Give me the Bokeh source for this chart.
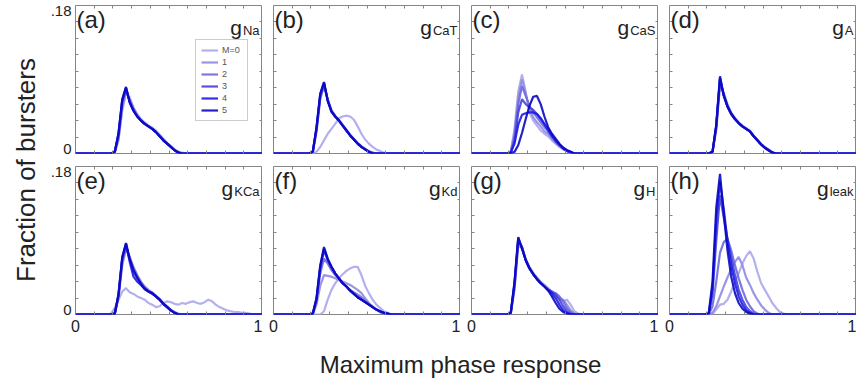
from bokeh.plotting import figure
from bokeh.layouts import row, column
from bokeh.models import LinearAxis, FixedTicker, Label, Legend, LegendItem, Div, Range1d
from bokeh.embed import file_html
from bokeh.resources import INLINE

# ---------------- data ----------------
X_GRID = [0, 0.17, 0.19, 0.21, 0.23, 0.25, 0.27, 0.29, 0.31, 0.33, 0.35, 0.37, 0.39,
          0.41, 0.43, 0.45, 0.47, 0.49, 0.51, 0.53, 0.55, 0.57, 0.59, 0.61, 0.63, 0.65, 1.0]

M_LABELS = ["M=0", "1", "2", "3", "4", "5"]
PANEL_LETTERS = ["(a)", "(b)", "(c)", "(d)", "(e)", "(f)", "(g)", "(h)"]
PANEL_SUBS = ["Na", "CaT", "CaS", "A", "KCa", "Kd", "H", "leak"]

G_NA = [
    [0, 0, 0, 0.001, 0.016, 0.052, 0.074, 0.068, 0.056, 0.048, 0.042, 0.038, 0.034, 0.031, 0.028, 0.023, 0.018, 0.013, 0.009, 0.005, 0.002, 0.001, 0, 0, 0, 0, 0],
    [0, 0, 0, 0.001, 0.018, 0.056, 0.076, 0.066, 0.055, 0.047, 0.041, 0.037, 0.034, 0.031, 0.027, 0.022, 0.017, 0.012, 0.008, 0.004, 0.002, 0, 0, 0, 0, 0, 0],
    [0, 0, 0, 0.002, 0.020, 0.060, 0.078, 0.064, 0.054, 0.046, 0.040, 0.036, 0.033, 0.030, 0.026, 0.021, 0.016, 0.012, 0.008, 0.004, 0.001, 0, 0, 0, 0, 0, 0],
    [0, 0, 0, 0.002, 0.022, 0.063, 0.079, 0.063, 0.053, 0.045, 0.040, 0.036, 0.033, 0.030, 0.026, 0.021, 0.016, 0.012, 0.008, 0.004, 0.001, 0, 0, 0, 0, 0, 0],
    [0, 0, 0, 0.002, 0.024, 0.065, 0.080, 0.062, 0.052, 0.045, 0.040, 0.036, 0.033, 0.030, 0.026, 0.021, 0.016, 0.012, 0.008, 0.004, 0.001, 0, 0, 0, 0, 0, 0],
    [0, 0, 0, 0.002, 0.025, 0.066, 0.081, 0.062, 0.052, 0.045, 0.040, 0.036, 0.033, 0.030, 0.026, 0.021, 0.016, 0.012, 0.008, 0.004, 0.001, 0, 0, 0, 0, 0, 0],
]
G_CAT = [
    [0, 0, 0, 0, 0.002, 0.008, 0.016, 0.024, 0.030, 0.036, 0.043, 0.045, 0.046, 0.045, 0.041, 0.033, 0.024, 0.017, 0.012, 0.008, 0.005, 0.003, 0.001, 0, 0, 0, 0],
    [0, 0, 0, 0.001, 0.026, 0.066, 0.082, 0.066, 0.053, 0.046, 0.041, 0.035, 0.029, 0.023, 0.018, 0.013, 0.009, 0.006, 0.003, 0.001, 0, 0, 0, 0, 0, 0, 0],
    [0, 0, 0, 0.002, 0.028, 0.068, 0.084, 0.065, 0.052, 0.045, 0.040, 0.034, 0.028, 0.022, 0.017, 0.012, 0.008, 0.005, 0.002, 0.001, 0, 0, 0, 0, 0, 0, 0],
    [0, 0, 0, 0.002, 0.030, 0.070, 0.085, 0.065, 0.051, 0.045, 0.040, 0.034, 0.028, 0.022, 0.017, 0.012, 0.008, 0.005, 0.002, 0, 0, 0, 0, 0, 0, 0, 0],
    [0, 0, 0, 0.002, 0.031, 0.072, 0.086, 0.064, 0.051, 0.045, 0.040, 0.034, 0.028, 0.022, 0.017, 0.012, 0.008, 0.005, 0.002, 0, 0, 0, 0, 0, 0, 0, 0],
    [0, 0, 0, 0.002, 0.032, 0.073, 0.087, 0.064, 0.051, 0.045, 0.040, 0.034, 0.028, 0.022, 0.017, 0.012, 0.008, 0.005, 0.002, 0, 0, 0, 0, 0, 0, 0, 0],
]
G_CAS = [
    [0, 0, 0, 0.002, 0.030, 0.075, 0.096, 0.075, 0.050, 0.040, 0.034, 0.028, 0.024, 0.021, 0.016, 0.012, 0.008, 0.005, 0.003, 0.001, 0, 0, 0, 0, 0, 0, 0],
    [0, 0, 0, 0.002, 0.025, 0.068, 0.090, 0.072, 0.055, 0.044, 0.038, 0.033, 0.027, 0.024, 0.018, 0.013, 0.009, 0.006, 0.003, 0.001, 0, 0, 0, 0, 0, 0, 0],
    [0, 0, 0, 0.001, 0.020, 0.060, 0.082, 0.070, 0.058, 0.050, 0.044, 0.038, 0.032, 0.027, 0.020, 0.015, 0.010, 0.006, 0.003, 0.001, 0, 0, 0, 0, 0, 0, 0],
    [0, 0, 0, 0.001, 0.015, 0.050, 0.066, 0.060, 0.056, 0.053, 0.048, 0.042, 0.035, 0.028, 0.021, 0.015, 0.010, 0.006, 0.003, 0.001, 0, 0, 0, 0, 0, 0, 0],
    [0, 0, 0, 0.001, 0.012, 0.035, 0.047, 0.049, 0.050, 0.050, 0.048, 0.043, 0.036, 0.029, 0.022, 0.016, 0.011, 0.007, 0.004, 0.002, 0, 0, 0, 0, 0, 0, 0],
    [0, 0, 0, 0, 0.002, 0.010, 0.025, 0.042, 0.058, 0.069, 0.070, 0.060, 0.045, 0.032, 0.024, 0.018, 0.012, 0.007, 0.004, 0.002, 0, 0, 0, 0, 0, 0, 0],
]
G_A = [
    [0, 0, 0, 0, 0.002, 0.028, 0.082, 0.074, 0.060, 0.050, 0.043, 0.038, 0.034, 0.031, 0.028, 0.022, 0.017, 0.012, 0.008, 0.005, 0.002, 0, 0, 0, 0, 0, 0],
    [0, 0, 0, 0, 0.002, 0.030, 0.085, 0.073, 0.059, 0.049, 0.043, 0.037, 0.033, 0.030, 0.027, 0.021, 0.016, 0.011, 0.007, 0.004, 0.001, 0, 0, 0, 0, 0, 0],
    [0, 0, 0, 0, 0.002, 0.032, 0.088, 0.072, 0.058, 0.049, 0.042, 0.037, 0.033, 0.030, 0.027, 0.021, 0.016, 0.011, 0.007, 0.004, 0.001, 0, 0, 0, 0, 0, 0],
    [0, 0, 0, 0, 0.002, 0.033, 0.090, 0.071, 0.058, 0.048, 0.042, 0.037, 0.033, 0.030, 0.027, 0.021, 0.016, 0.011, 0.007, 0.004, 0.001, 0, 0, 0, 0, 0, 0],
    [0, 0, 0, 0, 0.002, 0.034, 0.092, 0.071, 0.057, 0.048, 0.042, 0.037, 0.033, 0.030, 0.027, 0.021, 0.016, 0.011, 0.007, 0.004, 0.001, 0, 0, 0, 0, 0, 0],
    [0, 0, 0, 0, 0.002, 0.035, 0.094, 0.070, 0.057, 0.048, 0.042, 0.037, 0.033, 0.030, 0.027, 0.021, 0.016, 0.011, 0.007, 0.004, 0.001, 0, 0, 0, 0, 0, 0],
]
# panel (e), M=0 has a long tail and its own x values
X_KCA_M0 = [0, 0.17, 0.19, 0.21, 0.23, 0.25, 0.27, 0.29, 0.31, 0.33, 0.35, 0.37, 0.39, 0.41,
            0.43, 0.45, 0.47, 0.49, 0.51, 0.53, 0.55, 0.57, 0.59, 0.61, 0.63, 0.65, 0.67,
            0.69, 0.71, 0.73, 0.75, 0.77, 0.79, 0.81, 0.83, 0.85, 0.87, 0.89, 0.91, 0.93, 0.95, 1.0]
Y_KCA_M0 = [0, 0, 0.001, 0.008, 0.018, 0.028, 0.032, 0.027, 0.025, 0.022, 0.020, 0.018, 0.014, 0.012,
            0.009, 0.010, 0.014, 0.016, 0.015, 0.013, 0.012, 0.014, 0.013, 0.015, 0.016, 0.014, 0.013,
            0.015, 0.018, 0.016, 0.012, 0.009, 0.007, 0.005, 0.004, 0.003, 0.003, 0.002, 0.002, 0.001, 0, 0]
G_KCA = [
    Y_KCA_M0,
    [0, 0, 0, 0.001, 0.020, 0.060, 0.080, 0.070, 0.058, 0.048, 0.040, 0.034, 0.030, 0.027, 0.023, 0.019, 0.014, 0.010, 0.006, 0.003, 0.001, 0, 0, 0, 0, 0, 0],
    [0, 0, 0, 0.001, 0.022, 0.064, 0.083, 0.068, 0.056, 0.047, 0.039, 0.033, 0.029, 0.026, 0.022, 0.018, 0.013, 0.009, 0.005, 0.002, 0, 0, 0, 0, 0, 0, 0],
    [0, 0, 0, 0.001, 0.023, 0.067, 0.085, 0.066, 0.052, 0.044, 0.038, 0.032, 0.028, 0.026, 0.022, 0.018, 0.013, 0.009, 0.005, 0.002, 0, 0, 0, 0, 0, 0, 0],
    [0, 0, 0, 0.001, 0.024, 0.069, 0.086, 0.064, 0.046, 0.040, 0.036, 0.031, 0.028, 0.025, 0.022, 0.018, 0.013, 0.009, 0.005, 0.002, 0, 0, 0, 0, 0, 0, 0],
    [0, 0, 0, 0.001, 0.025, 0.070, 0.087, 0.068, 0.054, 0.045, 0.037, 0.031, 0.028, 0.026, 0.022, 0.018, 0.013, 0.009, 0.005, 0.002, 0, 0, 0, 0, 0, 0, 0],
]
G_KD = [
    [0, 0, 0, 0, 0, 0, 0.004, 0.018, 0.030, 0.038, 0.044, 0.049, 0.053, 0.056, 0.058, 0.058, 0.048, 0.035, 0.026, 0.018, 0.012, 0.008, 0.004, 0.002, 0, 0, 0],
    [0, 0, 0, 0, 0.012, 0.035, 0.048, 0.047, 0.046, 0.044, 0.042, 0.040, 0.038, 0.036, 0.033, 0.030, 0.026, 0.020, 0.014, 0.010, 0.006, 0.003, 0.001, 0, 0, 0, 0],
    [0, 0, 0, 0.001, 0.016, 0.050, 0.068, 0.062, 0.054, 0.048, 0.043, 0.038, 0.034, 0.030, 0.027, 0.024, 0.021, 0.017, 0.013, 0.009, 0.006, 0.003, 0.001, 0, 0, 0, 0],
    [0, 0, 0, 0.001, 0.018, 0.056, 0.078, 0.066, 0.057, 0.050, 0.044, 0.038, 0.034, 0.029, 0.025, 0.021, 0.018, 0.015, 0.012, 0.009, 0.006, 0.004, 0.002, 0.001, 0, 0, 0],
    [0, 0, 0, 0.001, 0.019, 0.058, 0.080, 0.067, 0.058, 0.050, 0.044, 0.038, 0.034, 0.029, 0.025, 0.021, 0.018, 0.015, 0.012, 0.009, 0.006, 0.004, 0.002, 0.001, 0, 0, 0],
    [0, 0, 0, 0.001, 0.020, 0.060, 0.082, 0.068, 0.058, 0.050, 0.044, 0.038, 0.034, 0.029, 0.025, 0.021, 0.018, 0.015, 0.012, 0.009, 0.006, 0.004, 0.002, 0.001, 0, 0, 0],
]
G_H = [
    [0, 0, 0, 0.001, 0.030, 0.084, 0.080, 0.068, 0.058, 0.051, 0.045, 0.040, 0.036, 0.032, 0.028, 0.025, 0.020, 0.016, 0.018, 0.012, 0.004, 0.001, 0, 0, 0, 0, 0],
    [0, 0, 0, 0.001, 0.032, 0.087, 0.082, 0.067, 0.057, 0.050, 0.044, 0.039, 0.035, 0.031, 0.027, 0.024, 0.020, 0.018, 0.012, 0.005, 0.001, 0, 0, 0, 0, 0, 0],
    [0, 0, 0, 0.002, 0.034, 0.089, 0.082, 0.066, 0.057, 0.049, 0.044, 0.039, 0.034, 0.030, 0.027, 0.026, 0.022, 0.016, 0.008, 0.003, 0, 0, 0, 0, 0, 0, 0],
    [0, 0, 0, 0.002, 0.036, 0.091, 0.082, 0.066, 0.056, 0.049, 0.043, 0.038, 0.034, 0.030, 0.028, 0.024, 0.018, 0.010, 0.004, 0.001, 0, 0, 0, 0, 0, 0, 0],
    [0, 0, 0, 0.002, 0.038, 0.093, 0.081, 0.066, 0.056, 0.049, 0.043, 0.038, 0.034, 0.030, 0.026, 0.020, 0.012, 0.005, 0.002, 0, 0, 0, 0, 0, 0, 0, 0],
    [0, 0, 0, 0.002, 0.040, 0.094, 0.080, 0.066, 0.056, 0.049, 0.043, 0.038, 0.034, 0.029, 0.022, 0.014, 0.007, 0.003, 0.001, 0, 0, 0, 0, 0, 0, 0, 0],
]
G_LEAK = [
    [0, 0, 0, 0, 0.001, 0.006, 0.012, 0.013, 0.018, 0.028, 0.040, 0.050, 0.062, 0.071, 0.077, 0.068, 0.052, 0.038, 0.030, 0.022, 0.014, 0.008, 0.003, 0.001, 0, 0, 0],
    [0, 0, 0, 0, 0.002, 0.010, 0.022, 0.034, 0.045, 0.055, 0.064, 0.070, 0.060, 0.045, 0.036, 0.026, 0.018, 0.011, 0.006, 0.002, 0, 0, 0, 0, 0, 0, 0],
    [0, 0, 0, 0, 0.010, 0.040, 0.075, 0.088, 0.092, 0.078, 0.060, 0.044, 0.030, 0.018, 0.010, 0.004, 0.001, 0, 0, 0, 0, 0, 0, 0, 0, 0, 0],
    [0, 0, 0, 0, 0.025, 0.090, 0.145, 0.118, 0.092, 0.070, 0.048, 0.030, 0.018, 0.009, 0.004, 0.001, 0, 0, 0, 0, 0, 0, 0, 0, 0, 0, 0],
    [0, 0, 0, 0.001, 0.032, 0.115, 0.162, 0.128, 0.090, 0.060, 0.038, 0.022, 0.012, 0.005, 0.002, 0, 0, 0, 0, 0, 0, 0, 0, 0, 0, 0, 0],
    [0, 0, 0, 0.002, 0.040, 0.130, 0.171, 0.123, 0.078, 0.046, 0.026, 0.014, 0.007, 0.003, 0.001, 0, 0, 0, 0, 0, 0, 0, 0, 0, 0, 0, 0],
]
PANELS = [G_NA, G_CAT, G_CAS, G_A, G_KCA, G_KD, G_H, G_LEAK]

X_TICKS = [0, 1]
X_TICK_LABELS = ["0", "1"]
X_MINOR = [0.1, 0.2, 0.3, 0.4, 0.5, 0.6, 0.7, 0.8, 0.9]
Y_TICK_LABELS = ["0", ".18"]
Y_MINOR = [0.02, 0.04, 0.06, 0.08, 0.10, 0.12, 0.14, 0.16]

# ---------------- style ----------------
# the reference prints the y labels "0" and ".18" a few pixels inside the axis ends;
# these are the anchor positions of those two labels (label placement, not data)
Y_LABEL_ANCHORS = [0.006, 0.1735]
COLORS = ["#aba7ee", "#8f8ae4", "#6f69dc", "#4640d8", "#1c1ae8", "#0a08c0"]
GRAY = "#858585"
TXT = "#222222"
FONT = "Liberation Sans"
FW, FH = 187, 148
SUB_EM = {"Na": 1.278, "CaT": 1.889, "CaS": 1.945, "A": 0.667, "KCa": 1.945,
          "Kd": 1.223, "H": 0.722, "leak": 1.834}
SUB_SIZE = 13


def add_axis(p, side, ticks, minor, labels, size="16px", standoff=5):
    ax = LinearAxis(
        ticker=FixedTicker(ticks=ticks, minor_ticks=minor),
        major_label_overrides=dict(zip(ticks, labels)),
        major_tick_in=4 if side in ("below", "above") else 0, major_tick_out=0,
        minor_tick_in=3, minor_tick_out=0,
        major_tick_line_color=GRAY, minor_tick_line_color=GRAY, axis_line_color=None,
        major_label_standoff=standoff, major_label_text_font_size=size,
        major_label_text_font=FONT, major_label_text_color=TXT,
    )
    p.add_layout(ax, side)


figs = []
for i, series in enumerate(PANELS):
    r, c = divmod(i, 4)
    p = figure(frame_width=FW, frame_height=FH,
               x_range=Range1d(0, 1), y_range=Range1d(0, 0.18),
               x_axis_location=None, y_axis_location=None,
               output_backend="svg", toolbar_location=None,
               min_border_left=27 if c == 0 else 11, min_border_right=0,
               min_border_top=5 if r == 0 else 7, min_border_bottom=6 if r == 0 else 24,
               background_fill_color="white", border_fill_color="white")
    p.grid.visible = False
    p.outline_line_color = GRAY
    p.outline_line_width = 1

    if r == 1:
        add_axis(p, "below", X_TICKS, X_MINOR, X_TICK_LABELS)
    else:
        add_axis(p, "below", [], X_MINOR, [])
    add_axis(p, "above", [], X_MINOR, [])
    if c == 0:
        add_axis(p, "left", Y_LABEL_ANCHORS, Y_MINOR, Y_TICK_LABELS, size="15px", standoff=4)
    else:
        add_axis(p, "left", [], Y_MINOR, [])
    add_axis(p, "right", [], Y_MINOR, [])

    renderers = []
    for m, ys in enumerate(series):
        xs = X_KCA_M0 if (i == 4 and m == 0) else X_GRID
        rr = p.line(xs, ys, line_color=COLORS[m], line_width=2.2, line_alpha=0.9)
        renderers.append(rr)

    p.add_layout(Label(x=0, y=0.18, text=PANEL_LETTERS[i], text_align="left",
                       text_baseline="top", x_offset=1, y_offset=0,
                       text_font=FONT, text_font_size="24px", text_color=TXT))
    sub = PANEL_SUBS[i]
    subw = SUB_EM[sub] * SUB_SIZE
    p.add_layout(Label(x=1, y=0.18, text="g", text_align="right",
                       text_baseline="alphabetic", x_offset=-(4 + subw), y_offset=-22,
                       text_font=FONT, text_font_size="21px", text_color=TXT))
    p.add_layout(Label(x=1, y=0.18, text=sub, text_align="right",
                       text_baseline="alphabetic", x_offset=-3, y_offset=-25,
                       text_font=FONT, text_font_size=f"{SUB_SIZE}px", text_color=TXT))

    if i == 0:
        legend = Legend(items=[LegendItem(label=M_LABELS[m], renderers=[renderers[m]])
                               for m in range(6)],
                        location=(120, 32), label_text_font=FONT,
                        label_text_font_size="9px", label_text_color="#555555",
                        glyph_width=17, glyph_height=8, label_height=10,
                        label_standoff=4, spacing=2, padding=5, margin=0,
                        border_line_color="#999999", border_line_width=1,
                        background_fill_color="white", background_fill_alpha=1)
        p.add_layout(legend, "center")
    figs.append(p)

ydiv = Div(
    text=('<div style="width:37px;height:338px;display:flex;align-items:center;'
          'justify-content:center;padding-left:7px;padding-bottom:8px;box-sizing:border-box;">'
          '<span style="writing-mode:vertical-rl;transform:rotate(180deg);'
          "font-family:'Liberation Sans';font-size:26px;color:#222222;white-space:nowrap;\">"
          'Fraction of bursters</span></div>'),
    width=37, height=338)

xdiv = Div(
    text=('<div style="width:845px;height:24px;padding-left:66px;box-sizing:border-box;'
          "text-align:center;font-family:'Liberation Sans';font-size:24px;line-height:24px;"
          'color:#222222;white-space:nowrap;">Maximum phase response</div>'),
    width=845, height=24)

grid = column(row(*figs[:4]), row(*figs[4:]))
layout = column(row(ydiv, grid), xdiv)

open("out.html", "w").write(file_html(layout, INLINE))
